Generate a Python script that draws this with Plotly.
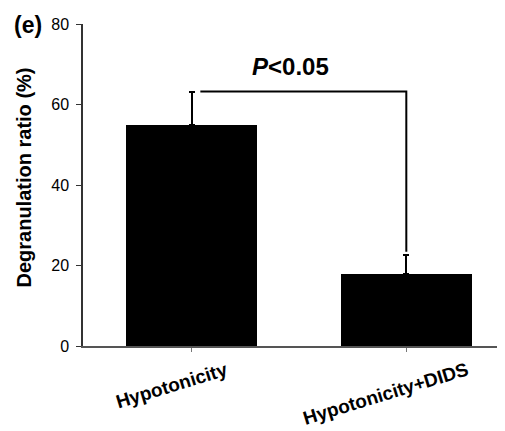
import plotly.graph_objects as go

categories = ["Hypotonicity", "Hypotonicity+DIDS"]
means = [55.0, 18.0]
errors_up = [8.2, 4.6]
y_ticks = [0, 20, 40, 60, 80]
p_label = "<b><i>P</i>&lt;0.05</b>"
panel_label = "<b>(e)</b>"
y_title = "<b>Degranulation ratio (%)</b>"

FONT = "Liberation Sans, Arial, sans-serif"
xpos = list(range(len(categories)))

fig = go.Figure()
fig.add_trace(go.Bar(
    x=xpos, y=means, width=0.61,
    marker=dict(color="black", line=dict(width=0)),
    error_y=dict(type="data", symmetric=False, array=errors_up,
                 arrayminus=[0] * len(means), color="black", thickness=2, width=3),
    showlegend=False,
))

# significance bracket from top of first error bar to top of second
top1 = means[0] + errors_up[0]
top2 = means[1] + errors_up[1]
fig.add_trace(go.Scatter(
    x=[xpos[0] + 0.04, xpos[1], xpos[1]],
    y=[top1, top1, top2 + 0.8],
    mode="lines", line=dict(color="black", width=2),
    showlegend=False, hoverinfo="skip",
))

fig.add_annotation(x=(xpos[0] + xpos[1]) / 2, y=top1, xref="x", yref="y",
                   text=p_label, showarrow=False, xanchor="center", yanchor="bottom",
                   xshift=-9, yshift=10, font=dict(family=FONT, size=24, color="black"))

fig.add_annotation(x=-0.131, y=1.0, xref="paper", yref="paper", text=panel_label,
                   showarrow=False, xanchor="center", yanchor="middle", yshift=-1,
                   font=dict(family=FONT, size=23, color="black"))

# y-axis title (slightly above the plot centre, as in the reference)
fig.add_annotation(x=-0.14, y=0.523, xref="paper", yref="paper", text=y_title,
                   showarrow=False, textangle=-90, xanchor="center", yanchor="middle",
                   font=dict(family=FONT, size=20, color="black"))

for xi, lab in zip(xpos, categories):
    fig.add_annotation(x=xi, y=0, xref="x", yref="paper", text=f"<b>{lab}</b>",
                       showarrow=False, textangle=-17, xanchor="center", yanchor="top",
                       xshift=-20, yshift=-10,
                       font=dict(family=FONT, size=19, color="black"))

# the page body adds an 8px offset, so the figure is sized to fit the window
fig.update_layout(
    width=497, height=423,
    margin=dict(l=75, r=0, t=16, b=85),
    paper_bgcolor="white", plot_bgcolor="white",
    font=dict(family=FONT, color="black"),
    bargap=0,
)
fig.update_xaxes(
    range=[-0.507, 1.46], tickvals=xpos, ticktext=["", ""],
    showline=True, linecolor="#555555", linewidth=1.5,
    ticks="outside", ticklen=4, tickcolor="#777777", tickwidth=1,
    showgrid=False, zeroline=False, automargin=False,
)
fig.update_yaxes(
    range=[0, 80], tickvals=y_ticks,
    tickfont=dict(family=FONT, size=16, color="black"),
    tickprefix="<b>", ticksuffix="</b>", ticklabelstandoff=4,
    showline=True, linecolor="#333333", linewidth=1.5,
    ticks="outside", ticklen=5, tickcolor="#333333", tickwidth=1,
    showgrid=False, zeroline=False, automargin=False,
)

fig.write_html("out.html")
